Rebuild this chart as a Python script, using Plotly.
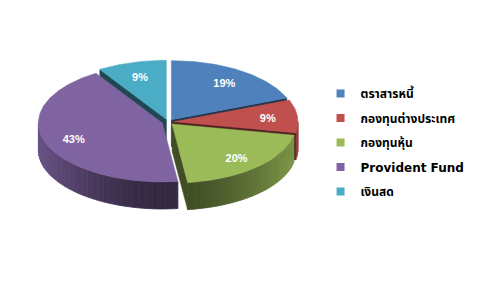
import numpy as np
import plotly.graph_objects as go

# ---- data ----
categories = ["ตราสารหนี้", "กองทุนต่างประเทศ", "กองทุนหุ้น", "Provident Fund", "เงินสด"]
values = [19, 9, 20, 43, 9]
top_colors = ["#4F81BD", "#C0504D", "#9BBB59", "#8064A2", "#4BACC6"]

# ---- geometry (pixels, y down) ----
CX, CY = 168, 122
RX, RY = 124, 59
DEPTH = 27
EXPLODE = 6
LABEL_R = 0.76


def hex_to_rgb(h):
    h = h.lstrip("#")
    return tuple(int(h[i:i + 2], 16) for i in (0, 2, 4))


def shade(h, f):
    r, g, b = hex_to_rgb(h)
    return "rgb(%d,%d,%d)" % (r * f, g * f, b * f)


def pt(theta_deg, ox, oy, r=1.0):
    t = np.radians(theta_deg)
    return ox + RX * r * np.sin(t), oy - RY * r * np.cos(t)


total = float(sum(values))
starts = np.cumsum([0] + values[:-1]) / total * 360.0
ends = np.cumsum(values) / total * 360.0
mids = (starts + ends) / 2.0

# back-to-front drawing order
order = sorted(range(len(values)), key=lambda i: np.cos(np.radians(mids[i])), reverse=True)

fig = go.Figure()


def poly(xs, ys, color, lw=0.6):
    fig.add_trace(go.Scatter(x=list(xs) + [xs[0]], y=list(ys) + [ys[0]], mode="lines",
                             fill="toself", fillcolor=color,
                             line=dict(color=color, width=lw),
                             hoverinfo="skip", showlegend=False))


for i in order:
    a, b, m = starts[i], ends[i], mids[i]
    ox = CX + EXPLODE * np.sin(np.radians(m))
    oy = CY - EXPLODE * np.cos(np.radians(m)) * RY / RX
    col = top_colors[i]

    # outer wall (front half only: 90..270 deg)
    lo, hi = max(a, 90.0), min(b, 270.0)
    if hi > lo:
        n = max(2, int((hi - lo) / 3) + 1)
        ts = np.linspace(lo, hi, n + 1)
        for k in range(n):
            t0, t1 = ts[k], ts[k + 1]
            tm = (t0 + t1) / 2
            f = 0.40 + 0.42 * abs(np.sin(np.radians(tm))) ** 1.5
            seg = np.linspace(t0, t1, 4)
            xs_top = [pt(t, ox, oy)[0] for t in seg]
            ys_top = [pt(t, ox, oy)[1] for t in seg]
            xs = xs_top + xs_top[::-1]
            ys = ys_top + [y + DEPTH for y in ys_top[::-1]]
            poly(xs, ys, shade(col, f), lw=0.8)

    # radial cut faces facing the viewer
    for edge, visible in ((a, np.sin(np.radians(a)) < -1e-6), (b, np.sin(np.radians(b)) > 1e-6)):
        if visible:
            ex, ey = pt(edge, ox, oy)
            poly([ox, ex, ex, ox], [oy, ey, ey + DEPTH, oy + DEPTH], shade(col, 0.42))

    # top face
    arc = np.linspace(a, b, max(8, int(b - a)))
    xs = [ox] + [pt(t, ox, oy)[0] for t in arc]
    ys = [oy] + [pt(t, ox, oy)[1] for t in arc]
    poly(xs, ys, col, lw=0.5)

    # percentage label
    lx, ly = pt(m, ox, oy, LABEL_R)
    fig.add_trace(go.Scatter(x=[lx], y=[ly + 2], mode="text",
                             text=["%d%%" % values[i]],
                             textfont=dict(family="Liberation Sans, Arial", size=11,
                                           color="white", weight="bold"),
                             hoverinfo="skip", showlegend=False))

# legend entries
for i, cat in enumerate(categories):
    fig.add_trace(go.Scatter(x=[None], y=[None], mode="markers", name=cat,
                             marker=dict(symbol="square", size=8, color=top_colors[i]),
                             legendgroup=str(i), showlegend=True))

fig.update_layout(
    width=477, height=282,
    margin=dict(l=0, r=0, t=0, b=0),
    paper_bgcolor="white", plot_bgcolor="white",
    xaxis=dict(range=[0, 477], visible=False, fixedrange=True),
    yaxis=dict(range=[282, 0], visible=False, fixedrange=True),
    showlegend=True,
    legend=dict(x=0.672, y=0.72, xanchor="left", yanchor="top",
                bgcolor="rgba(0,0,0,0)", tracegroupgap=5.5, itemwidth=30,
                font=dict(family="Tahoma, DejaVu Sans, Noto Sans Thai, Loma, Garuda, sans-serif",
                          size=12, color="black", weight="bold")),
)

fig.write_html("out.html")
